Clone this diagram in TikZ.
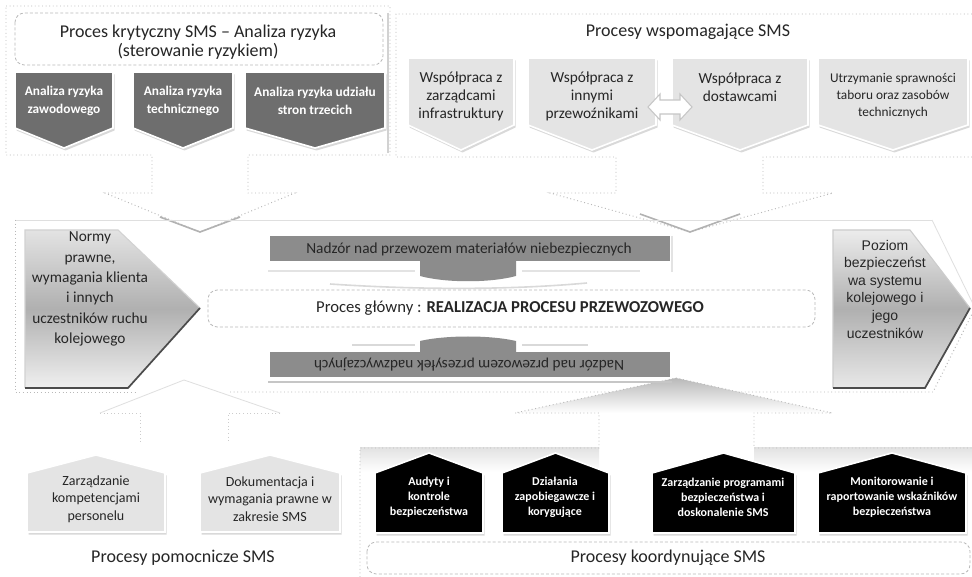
\documentclass[tikz,border=0pt]{standalone}
\usepackage{fontspec}
\setmainfont{Carlito}
\newfontfamily\arialf{Liberation Sans}
\definecolor{chevdark}{HTML}{6E6E6E}
\definecolor{chevlight}{HTML}{E4E4E4}
\definecolor{barfill}{HTML}{8C8C8C}
\definecolor{txtdark}{HTML}{262626}
\newcommand{\dchev}[6]{\path[#6] (#1,#3) -- (#2,#3) -- (#2,#4) -- ({(#1+#2)/2},#5) -- (#1,#4) -- cycle;}
\newcommand{\uhouse}[6]{\path[#6] (#1,#5) -- (#1,#4) -- ({(#1+#2)/2},#3) -- (#2,#4) -- (#2,#5) -- cycle;}
\tikzset{
  panelline/.style={draw=gray!55, dotted, line width=0.7pt},
  faintline/.style={draw=gray!25, line width=0.6pt},
  shadowsty/.style={fill=gray!30, shift={(1.5,2.5)}},
  chevdk/.style={fill=chevdark, draw=white, line width=1.2pt},
  chevlt/.style={fill=chevlight, draw=white, line width=1.2pt},
  housedk/.style={fill=black, draw=white, line width=1.2pt},
  houselt/.style={fill=chevlight, draw=white, line width=1.2pt},
  lbl/.style={align=center, inner sep=0pt, text=txtdark},
  wlbl/.style={align=center, inner sep=0pt, text=white, font=\bfseries},
  dashbox/.style={draw=gray!55, dash pattern=on 2.2pt off 1.6pt, line width=0.6pt, rounded corners=7, fill=white},
}
\begin{document}
\begin{tikzpicture}[x=0.75pt,y=-0.75pt]
\useasboundingbox (0,0) rectangle (972,577);
\fill[white] (0,0) rectangle (972,577);

% ---------- big background panels ----------
% top-left panel (down arrow)
\draw[panelline] (6,6) -- (390,6) -- (390,155) -- (248,155) -- (248,193) -- (295,193) -- (200,232) -- (105,193) -- (152,193) -- (152,155) -- (6,155) -- cycle;
\draw[gray!35, line width=2pt] (388,13) -- (388,153);
\draw[gray!60, line width=1.2pt] (160,217) -- (200,232) -- (240,217);
% top-right panel (down arrow)
\draw[panelline] (972,14) -- (396,14) -- (396,157) -- (616,157) -- (616,193) -- (550,193) -- (690,232) -- (833,193) -- (763,193) -- (763,157) -- (972,157);
\draw[gray!60, line width=1.2pt] (640,214) -- (690,232) -- (740,214);
% middle panel (right arrow)
\draw[faintline] (15,220) -- (932,220);
\draw[panelline] (15,220) -- (15,392) -- (138,392);
\draw[panelline] (230,392) -- (933,392) -- (975,308);
\draw[faintline] (932,220) -- (975,308);
% bottom-left panel (up arrow)
\draw[panelline, draw=gray!40] (100,413) -- (140,413) -- (140,443);
\draw[panelline, draw=gray!40] (280,413) -- (228,413) -- (228,443);
\draw[faintline] (100,413) -- (184,380) -- (280,413);
% bottom-right panel (up arrow)
\shade[top color=gray!55, bottom color=white] (515,413) -- (676,378) -- (832,413) -- cycle;
\shade[top color=gray!22, bottom color=white] (754,448) rectangle (972,472);
\shade[top color=gray!22, bottom color=white] (360,448) rectangle (599,472);
\draw[panelline] (360,577) -- (360,448) -- (599,448) -- (599,413) -- (515,413) -- (676,378) -- (832,413) -- (754,413) -- (754,448) -- (972,448);

% ---------- top-left: critical process ----------
\draw[dashbox] (15,13) rectangle (383,65);
\node[lbl, font=\fontsize{13.5}{14.3}\selectfont] (crit) at (198,42) {Proces krytyczny SMS – Analiza ryzyka\\(sterowanie ryzykiem)};

\dchev{15}{113}{72}{128}{148}{shadowsty}
\dchev{15}{113}{72}{128}{148}{chevdk}
\dchev{133}{233}{72}{128}{148}{shadowsty}
\dchev{133}{233}{72}{128}{148}{chevdk}
\dchev{245}{385}{72}{128}{148}{shadowsty}
\dchev{245}{385}{72}{128}{148}{chevdk}
\node[wlbl, font=\bfseries\fontsize{10}{13.5}\selectfont] (ar1) at (64,101) {Analiza ryzyka\\zawodowego};
\node[wlbl, font=\bfseries\fontsize{10}{13.5}\selectfont] (ar2) at (183,101) {Analiza ryzyka\\technicznego};
\node[wlbl, font=\bfseries\fontsize{10}{13.5}\selectfont] (ar3) at (315,101) {Analiza ryzyka udziału\\stron trzecich};

% ---------- top-right: supporting processes ----------
\node[lbl, font=\fontsize{13.5}{16}\selectfont] (supt) at (688,32) {Procesy wspomagające SMS};
\dchev{408}{514}{58}{125}{150}{shadowsty}
\dchev{408}{514}{58}{125}{150}{chevlt}
\dchev{528}{656}{58}{125}{150}{shadowsty}
\dchev{528}{656}{58}{125}{150}{chevlt}
\dchev{672}{808}{58}{125}{150}{shadowsty}
\dchev{672}{808}{58}{125}{150}{chevlt}
\dchev{818}{968}{58}{125}{150}{shadowsty}
\dchev{818}{968}{58}{125}{150}{chevlt}
\path[fill=white, draw=gray!45, line width=0.8pt] (648,107) -- (660,94) -- (660,100) -- (680,100) -- (680,94) -- (692,107) -- (680,120) -- (680,114) -- (660,114) -- (660,120) -- cycle;
\node[lbl, font=\fontsize{11.5}{13.5}\selectfont] (s1) at (461,96) {Współpraca z\\zarządcami\\infrastruktury};
\node[lbl, font=\fontsize{11.5}{13.5}\selectfont] (s2) at (592,96) {Współpraca z\\innymi\\przewoźnikami};
\node[lbl, font=\fontsize{11.5}{13.5}\selectfont] (s3) at (740,87) {Współpraca z\\dostawcami};
\node[lbl, font=\fontsize{10}{13}\selectfont] (s4) at (893,96) {Utrzymanie sprawności\\taboru oraz zasobów\\technicznych};

% ---------- middle ----------
\shade[top color=gray!22, bottom color=gray!12, middle color=gray!62] (25,230) -- (118,230) -- (200,308) -- (128,388) -- (25,388) -- cycle;
\draw[gray!35, line width=0.8pt] (25,388) -- (25,230) -- (118,230) -- (200,308);
\draw[black!70, line width=1.3pt] (200,308) -- (128,388) -- (25,388);
\node[lbl, font=\fontsize{11.5}{15.3}\selectfont] (norm) at (90,289) {Normy\\prawne,\\wymagania klienta\\i innych\\uczestników ruchu\\kolejowego};

\shade[top color=gray!15, bottom color=gray!18, middle color=gray!62] (833,230) -- (910,230) -- (970,308) -- (925,388) -- (833,388) -- cycle;
\draw[gray!40, line width=0.8pt] (833,388) -- (833,230) -- (910,230) -- (970,308);
\draw[black!70, line width=1.3pt] (970,308) -- (925,388) -- (833,388);
\node[lbl, font=\arialf\fontsize{10.5}{13.2}\selectfont] (poz) at (885,289) {Poziom\\bezpieczeńst\\wa systemu\\kolejowego i\\jego\\uczestników};

% upper bar
\fill[barfill] (270,236) rectangle (670,261);
\fill[barfill] (420,260) -- (420,276) .. controls (446,283) and (490,283) .. (516,276) -- (516,260) -- cycle;
\draw[gray!22, line width=1.5pt] (268,271) -- (415,271);
\draw[gray!22, line width=1.5pt] (522,271) -- (640,271);
\draw[gray!22, line width=1.2pt] (672,236) -- (672,272);
\draw[gray!30, line width=1.2pt] (330,284) .. controls (420,290) and (510,290) .. (587,283);
\node[lbl, font=\fontsize{11.5}{13}\selectfont] (nadz1) at (469,249) {Nadzór nad przewozem materiałów niebezpiecznych};

% main process
\draw[dashbox] (208,290) rectangle (815,327);
\node[lbl, font=\fontsize{12.5}{14}\selectfont] (main) at (510,308) {Proces główny : \textbf{REALIZACJA PROCESU PRZEWOZOWEGO}};

% lower bar
\fill[barfill] (270,352) rectangle (670,377);
\fill[barfill] (420,353) -- (420,341) .. controls (446,335) and (490,335) .. (516,341) -- (516,353) -- cycle;
\draw[gray!30, line width=1.5pt] (352,345) -- (415,345);
\draw[gray!30, line width=1.5pt] (522,345) -- (588,345);
\draw[gray!45, line width=1.5pt] (268,382) -- (672,382);
\node[lbl, font=\fontsize{11.5}{13}\selectfont, rotate=180] (nadz2) at (469,365) {Nadzór nad przewozem przesyłek nadzwyczajnych};

% ---------- bottom-left: auxiliary processes ----------
\uhouse{27}{165}{455}{473}{532}{shadowsty}
\uhouse{27}{165}{455}{473}{532}{houselt}
\uhouse{200}{340}{455}{473}{532}{shadowsty}
\uhouse{200}{340}{455}{473}{532}{houselt}
\node[lbl, font=\fontsize{10.5}{13}\selectfont] (p1) at (96,499) {Zarządzanie\\kompetencjami\\personelu};
\node[lbl, font=\fontsize{10.5}{13}\selectfont] (p2) at (270,499) {Dokumentacja i\\wymagania prawne w\\zakresie SMS};
\node[lbl, font=\fontsize{13.5}{16}\selectfont] (pom) at (183,558) {Procesy pomocnicze SMS};

% ---------- bottom-right: coordinating processes ----------
\uhouse{375}{483}{453}{473}{533}{shadowsty}
\uhouse{375}{483}{453}{473}{533}{housedk}
\uhouse{502}{609}{453}{473}{533}{shadowsty}
\uhouse{502}{609}{453}{473}{533}{housedk}
\uhouse{652}{795}{453}{473}{533}{shadowsty}
\uhouse{652}{795}{453}{473}{533}{housedk}
\uhouse{818}{966}{453}{473}{533}{shadowsty}
\uhouse{818}{966}{453}{473}{533}{housedk}
\node[wlbl, font=\bfseries\fontsize{9}{11.3}\selectfont] (k1) at (429,497) {Audyty i\\kontrole\\bezpieczeństwa};
\node[wlbl, font=\bfseries\fontsize{9}{11.3}\selectfont] (k2) at (555,497) {Działania\\zapobiegawcze i\\korygujące};
\node[wlbl, font=\bfseries\fontsize{9}{11.3}\selectfont] (k3) at (723,497) {Zarządzanie programami\\bezpieczeństwa i\\doskonalenie SMS};
\node[wlbl, font=\bfseries\fontsize{9}{11.3}\selectfont] (k4) at (892,497) {Monitorowanie i\\raportowanie wskaźników\\bezpieczeństwa};
\draw[dashbox] (367,542) rectangle (970,574);
\node[lbl, font=\fontsize{13.5}{16}\selectfont] (koord) at (668,558) {Procesy koordynujące SMS};
\end{tikzpicture}
\end{document}
